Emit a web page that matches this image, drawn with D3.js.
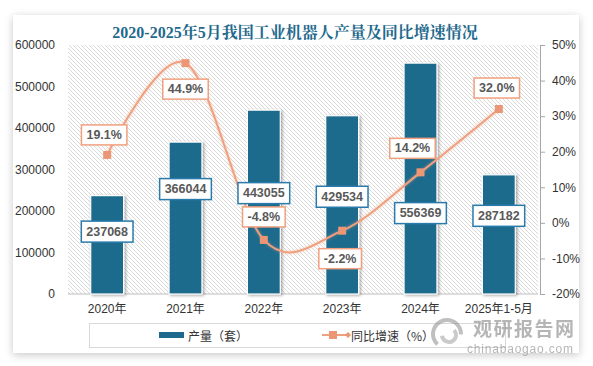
<!DOCTYPE html>
<html>
<head>
<meta charset="utf-8">
<script src="https://cdn.jsdelivr.net/npm/d3@7"></script>
<style>
  html, body { margin: 0; padding: 0; background: #fff; }
  svg { display: block; }
  text { font-family: "Liberation Sans", "Noto Sans CJK SC", sans-serif; }
</style>
</head>
<body>
<svg id="chart" width="593" height="366"></svg>
<script>
// ── Data ─────────────────────────────────────────────────────────────
const categories = ['2020年', '2021年', '2022年', '2023年', '2024年', '2025年1-5月'];
const output     = [237068, 366044, 443055, 429534, 556369, 287182];   // 产量（套）
const growth     = [19.1, 44.9, -4.8, -2.2, 14.2, 32.0];               // 同比增速（%）
const leftTicks  = [0, 100000, 200000, 300000, 400000, 500000, 600000];
const rightTicks = [-20, -10, 0, 10, 20, 30, 40, 50];

// label nudges (pixels), hand placed like the original
const BAR_LABEL_DY  = [36, 47, 83, 81, 150, 41];
const LINE_LABEL_DX = [-3, 0, 0, -2, -8, -2];
const LINE_LABEL_DY = [-20, 26, -23, 28, -24, -21];

const BAR_COLOR  = '#1d6a8c';
const LINE_COLOR = '#f0a07e';
const MARK_COLOR = '#eb9674';

const svg = d3.select('#chart');
const defs = svg.append('defs');

// card shadow
const cardShadow = defs.append('filter').attr('id', 'card-shadow')
  .attr('x', '-5%').attr('y', '-5%').attr('width', '110%').attr('height', '115%');
cardShadow.append('feDropShadow').attr('dx', 0).attr('dy', 2).attr('stdDeviation', 4)
  .attr('flood-color', '#000').attr('flood-opacity', 0.22);

// bar shadow
const barShadow = defs.append('filter').attr('id', 'bar-shadow')
  .attr('x', '-30%').attr('y', '-10%').attr('width', '160%').attr('height', '120%');
barShadow.append('feDropShadow').attr('dx', 1.5).attr('dy', 1).attr('stdDeviation', 1.6)
  .attr('flood-color', '#000').attr('flood-opacity', 0.35);

// line glow
const glow = defs.append('filter').attr('id', 'line-glow')
  .attr('x', '-10%').attr('y', '-10%').attr('width', '120%').attr('height', '120%');
glow.append('feDropShadow').attr('dx', 0).attr('dy', 0).attr('stdDeviation', 1.5)
  .attr('flood-color', LINE_COLOR).attr('flood-opacity', 0.6);

// diagonal hatch for the plot area
const hatch = defs.append('pattern').attr('id', 'hatch')
  .attr('patternUnits', 'userSpaceOnUse').attr('width', 4).attr('height', 4);
hatch.append('rect').attr('width', 4).attr('height', 4).attr('fill', '#fff');
hatch.append('path')
  .attr('d', 'M-1,3 l2,2 M0,0 l4,4 M3,-1 l2,2')
  .attr('stroke', '#d6d6d6').attr('stroke-width', 0.9);

// ── Card + title ─────────────────────────────────────────────────────
svg.append('rect')
  .attr('x', 13).attr('y', 15).attr('width', 566).attr('height', 338)
  .attr('fill', '#fff').attr('filter', 'url(#card-shadow)');

svg.append('text')
  .attr('x', 295).attr('y', 37.5)
  .attr('text-anchor', 'middle')
  .attr('fill', '#1f6a8d')
  .style('font-family', '"Liberation Serif", "Noto Serif CJK SC", "Noto Sans CJK SC", serif')
  .style('font-size', '16px').style('font-weight', 'bold')
  .text('2020-2025年5月我国工业机器人产量及同比增速情况');

// ── Scales ───────────────────────────────────────────────────────────
const plot = { left: 68, right: 538, top: 45, bottom: 294 };

const x = d3.scaleBand()
  .domain(categories)
  .range([plot.left, plot.right])
  .paddingInner(0.58)
  .paddingOuter(0.29);

const yL = d3.scaleLinear().domain([0, 600000]).range([plot.bottom, plot.top]);
const yR = d3.scaleLinear().domain([-20, 50]).range([plot.bottom, plot.top]);

svg.append('rect')
  .attr('x', plot.left).attr('y', plot.top)
  .attr('width', plot.right - plot.left).attr('height', plot.bottom - plot.top)
  .attr('fill', 'url(#hatch)');

// ── Axes ─────────────────────────────────────────────────────────────
const leftAxis = svg.append('g')
  .attr('transform', `translate(${plot.left},0)`)
  .call(d3.axisLeft(yL).tickValues(leftTicks).tickSize(0).tickPadding(13).tickFormat(d3.format('d')));
leftAxis.select('.domain').remove();

const rightAxis = svg.append('g')
  .attr('transform', 'translate(540,0)')
  .call(d3.axisRight(yR).tickValues(rightTicks).tickSize(5).tickPadding(7).tickFormat(d => d + '%'));
rightAxis.select('.domain').attr('stroke', '#a6a6a6');
rightAxis.selectAll('.tick line').attr('stroke', '#a6a6a6');

const bottomAxis = svg.append('g')
  .attr('transform', `translate(0,${plot.bottom})`)
  .call(d3.axisBottom(x).tickSize(0).tickPadding(10));
bottomAxis.select('.domain').attr('stroke', '#bfbfbf').attr('d', `M${plot.left},0H${plot.right}`);

svg.selectAll('.tick text')
  .style('font-size', '12px')
  .attr('fill', '#333')
  .style('font-family', '"Liberation Sans", "Noto Sans CJK SC", sans-serif');

// ── Bars ─────────────────────────────────────────────────────────────
svg.append('g').selectAll('rect')
  .data(output)
  .join('rect')
    .attr('x', (d, i) => x(categories[i]))
    .attr('y', d => yL(d))
    .attr('width', x.bandwidth())
    .attr('height', d => plot.bottom - yL(d))
    .attr('fill', BAR_COLOR)
    .attr('stroke', '#fff')
    .attr('stroke-width', 1.2)
    .attr('filter', 'url(#bar-shadow)');

// ── Line ─────────────────────────────────────────────────────────────
const cx = i => x(categories[i]) + x.bandwidth() / 2;

const line = d3.line()
  .x((d, i) => cx(i))
  .y(d => yR(d))
  .curve(d3.curveCardinal.tension(0));

svg.append('path')
  .datum(growth)
  .attr('d', line)
  .attr('fill', 'none')
  .attr('stroke', LINE_COLOR)
  .attr('stroke-width', 2)
  .attr('filter', 'url(#line-glow)');

svg.append('g').selectAll('rect')
  .data(growth)
  .join('rect')
    .attr('x', (d, i) => cx(i) - 4)
    .attr('y', d => yR(d) - 4)
    .attr('width', 8).attr('height', 8)
    .attr('fill', MARK_COLOR);

// ── Data labels ──────────────────────────────────────────────────────
function labelBox(g, str, cxPos, cyPos, stroke, h) {
  const t = g.append('text')
    .attr('x', cxPos).attr('y', cyPos)
    .attr('text-anchor', 'middle').attr('dominant-baseline', 'central')
    .attr('fill', '#595959')
    .style('font-size', '12.5px').style('font-weight', 'bold')
    .text(str);
  const w = t.node().getComputedTextLength() + 10;
  g.insert('rect', 'text')
    .attr('x', cxPos - w / 2).attr('y', cyPos - h / 2)
    .attr('width', w).attr('height', h)
    .attr('fill', '#fff').attr('stroke', stroke).attr('stroke-width', 1.5);
}

output.forEach((d, i) => {
  const g = svg.append('g');
  labelBox(g, d3.format('d')(d), cx(i), yL(d) + BAR_LABEL_DY[i], '#2a7bab', 21);
});

growth.forEach((d, i) => {
  const g = svg.append('g');
  labelBox(g, d.toFixed(1) + '%', cx(i) + LINE_LABEL_DX[i], yR(d) + LINE_LABEL_DY[i], LINE_COLOR, 20);
});

// ── Legend ───────────────────────────────────────────────────────────
const legend = svg.append('g');
legend.append('rect')
  .attr('x', 89.5).attr('y', 323.5).attr('width', 416).attr('height', 24)
  .attr('fill', '#fff').attr('stroke', '#d9d9d9');

legend.append('rect')
  .attr('x', 159).attr('y', 332).attr('width', 25).attr('height', 6)
  .attr('fill', BAR_COLOR);
legend.append('text')
  .attr('x', 188).attr('y', 335.5).attr('dominant-baseline', 'central')
  .attr('fill', '#333').style('font-size', '12px').style('font-family', '"Noto Sans CJK SC", sans-serif')
  .text('产量（套）');

legend.append('line')
  .attr('x1', 322).attr('x2', 349).attr('y1', 335).attr('y2', 335)
  .attr('stroke', LINE_COLOR).attr('stroke-width', 2);
legend.append('rect')
  .attr('x', 329).attr('y', 331).attr('width', 8).attr('height', 8)
  .attr('fill', MARK_COLOR);
legend.append('path')
  .attr('d', 'M348,332 l3,3 l-3,3 l-3,-3 Z')
  .attr('fill', MARK_COLOR);
legend.append('text')
  .attr('x', 351).attr('y', 335.5).attr('dominant-baseline', 'central')
  .attr('fill', '#333').style('font-size', '12px').style('font-family', '"Noto Sans CJK SC", sans-serif')
  .text('同比增速（%）');

// ── Watermark ────────────────────────────────────────────────────────
const wm = svg.append('g').attr('opacity', 0.55);
const logoArc = d3.arc();
wm.append('path')
  .attr('transform', 'translate(447,334)')
  .attr('d', logoArc({ innerRadius: 12, outerRadius: 16, startAngle: -2.4, endAngle: 1.6 }))
  .attr('fill', '#8c8c8c');
wm.append('path')
  .attr('transform', 'translate(449,335)')
  .attr('d', logoArc({ innerRadius: 5, outerRadius: 9, startAngle: 0.8, endAngle: 4.6 }))
  .attr('fill', '#a0a0a0');
wm.append('text')
  .attr('x', 473).attr('y', 336)
  .attr('fill', '#7a7a7a')
  .style('font-family', '"Noto Sans CJK SC", sans-serif')
  .style('font-size', '19px').style('font-weight', 'bold')
  .style('letter-spacing', '1.5px')
  .text('观研报告网');
wm.append('text')
  .attr('x', 467).attr('y', 353)
  .attr('fill', '#7a7a7a')
  .style('font-size', '12px').style('letter-spacing', '0.8px')
  .text('chinabaogao.com');
</script>
</body>
</html>
